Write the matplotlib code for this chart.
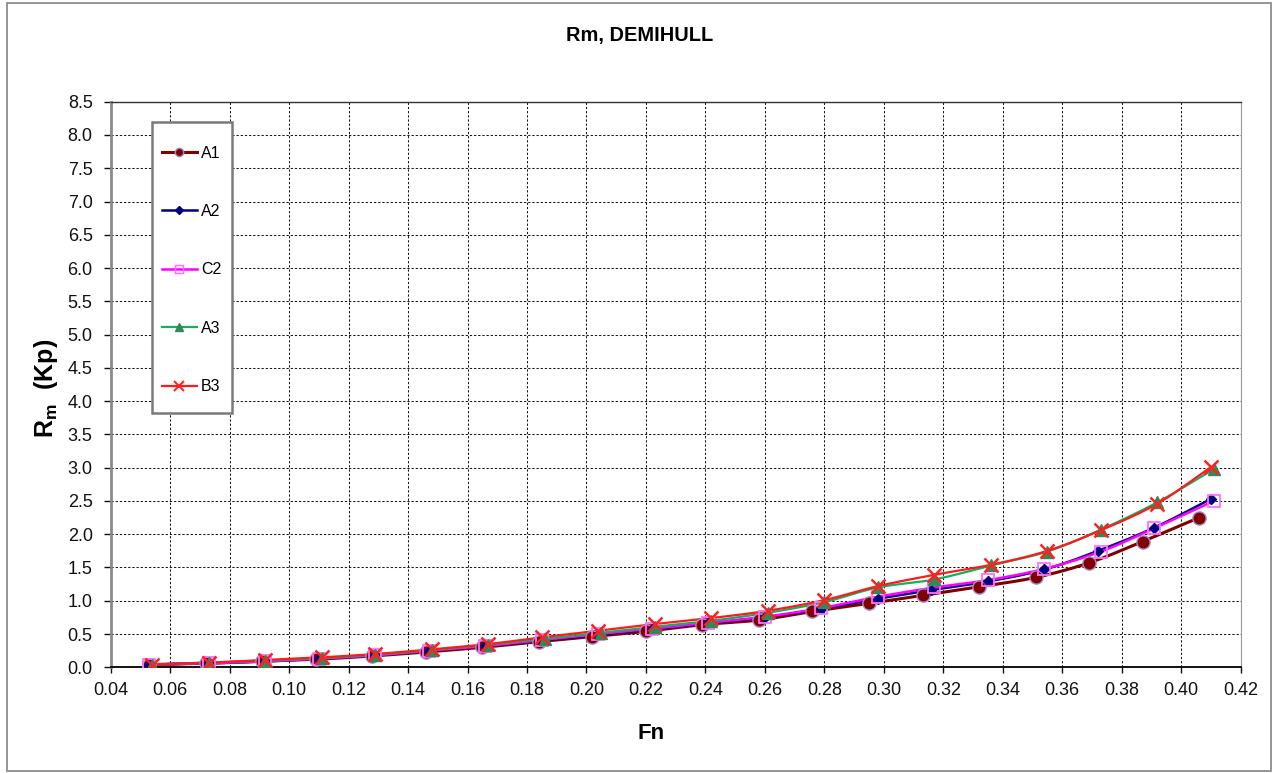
import numpy as np
import matplotlib
matplotlib.use("Agg")
import matplotlib.pyplot as plt
from matplotlib.lines import Line2D
from matplotlib.patches import Rectangle
from matplotlib.ticker import MultipleLocator, FormatStrFormatter

plt.rcParams["font.family"] = ["Liberation Sans", "DejaVu Sans"]
plt.rcParams["mathtext.fontset"] = "custom"
plt.rcParams["mathtext.rm"] = "Liberation Sans"
plt.rcParams["mathtext.bf"] = "Liberation Sans:bold"

# Froude number / model resistance (Kp) for each hull configuration
fn_a1 = [0.053, 0.072, 0.091, 0.109, 0.128, 0.146, 0.165, 0.184, 0.202, 0.220,
         0.239, 0.258, 0.276, 0.295, 0.313, 0.332, 0.351, 0.369, 0.387, 0.406]
rm_a1 = [0.04, 0.06, 0.09, 0.12, 0.17, 0.23, 0.30, 0.385, 0.46, 0.54,
         0.64, 0.71, 0.84, 0.96, 1.08, 1.21, 1.35, 1.57, 1.89, 2.25]

fn_a2 = [0.053, 0.073, 0.092, 0.110, 0.129, 0.147, 0.166, 0.185, 0.204, 0.222,
         0.241, 0.260, 0.279, 0.298, 0.316, 0.335, 0.354, 0.372, 0.391, 0.410]
rm_a2 = [0.04, 0.06, 0.09, 0.13, 0.18, 0.25, 0.32, 0.40, 0.49, 0.57,
         0.66, 0.75, 0.88, 1.03, 1.16, 1.29, 1.47, 1.75, 2.10, 2.53]

fn_c2 = [0.053, 0.073, 0.092, 0.110, 0.129, 0.147, 0.166, 0.185, 0.204, 0.222,
         0.241, 0.260, 0.279, 0.298, 0.317, 0.335, 0.354, 0.373, 0.391, 0.411]
rm_c2 = [0.04, 0.06, 0.09, 0.13, 0.18, 0.25, 0.32, 0.41, 0.50, 0.58,
         0.67, 0.76, 0.89, 1.06, 1.20, 1.31, 1.48, 1.74, 2.09, 2.50]

fn_a3 = [0.054, 0.073, 0.092, 0.111, 0.129, 0.148, 0.167, 0.186, 0.205, 0.223,
         0.242, 0.261, 0.280, 0.298, 0.317, 0.336, 0.355, 0.373, 0.392, 0.411]
rm_a3 = [0.04, 0.07, 0.10, 0.14, 0.19, 0.26, 0.34, 0.43, 0.52, 0.61,
         0.70, 0.82, 0.98, 1.20, 1.32, 1.53, 1.74, 2.07, 2.48, 2.98]

fn_b3 = [0.054, 0.073, 0.092, 0.111, 0.129, 0.148, 0.167, 0.185, 0.204, 0.223,
         0.242, 0.261, 0.280, 0.298, 0.317, 0.336, 0.355, 0.373, 0.392, 0.410]
rm_b3 = [0.04, 0.07, 0.11, 0.15, 0.20, 0.27, 0.35, 0.45, 0.55, 0.65,
         0.74, 0.85, 1.01, 1.22, 1.39, 1.54, 1.75, 2.06, 2.46, 3.01]

series_names = ["A1", "A2", "C2", "A3", "B3"]
x_ticks_step = 0.02
y_ticks_step = 0.5


def catmull_rom(x, y, n=16):
    """Smooth curve through the points (Catmull-Rom spline)."""
    p = np.column_stack([x, y]).astype(float)
    p = np.vstack([2 * p[0] - p[1], p, 2 * p[-1] - p[-2]])
    out = []
    t = np.linspace(0, 1, n, endpoint=False)[:, None]
    for i in range(1, len(p) - 2):
        p0, p1, p2, p3 = p[i - 1], p[i], p[i + 1], p[i + 2]
        seg = 0.5 * ((2 * p1) + (-p0 + p2) * t + (2 * p0 - 5 * p1 + 4 * p2 - p3) * t ** 2
                     + (-p0 + 3 * p1 - 3 * p2 + p3) * t ** 3)
        out.append(seg)
    out.append(p[-2][None, :])
    s = np.vstack(out)
    return s[:, 0], s[:, 1]


W, H = 1280, 773
fig = plt.figure(figsize=(W / 100, H / 100), dpi=100)
fig.patch.set_facecolor("white")

# chart border
fig.patches.append(Rectangle((7 / W, 2 / H), (1271 - 7) / W, (770 - 2) / H,
                             transform=fig.transFigure, fill=False,
                             edgecolor="#8c8c8c", linewidth=1.3))

left, right, top, bottom = 110.7, 1240.7, 101.7, 667.3
ax = fig.add_axes([left / W, 1 - bottom / H, (right - left) / W, (bottom - top) / H])

styles = [
    dict(x=fn_a1, y=rm_a1, line="#800000", lw=2.2, marker="o", ms=9.5, mfc="#800000",
         mec="#a58ac8", mew=1.0, lms=6),
    dict(x=fn_a2, y=rm_a2, line="#000080", lw=1.8, marker="D", ms=5.5, mfc="#000080",
         mec="#000080", mew=1.0, lms=4),
    dict(x=fn_c2, y=rm_c2, line="#ff00ff", lw=1.8, marker="s", ms=9, mfc="none",
         mec="#ff70ff", mew=1.3, lms=6),
    dict(x=fn_a3, y=rm_a3, line="#12b060", lw=1.6, marker="^", ms=8.5, mfc="#2e8b57",
         mec="#2e8b57", mew=1.0, lms=6),
    dict(x=fn_b3, y=rm_b3, line="#ff1a1a", lw=1.6, marker="x", ms=10, mfc="#ff2020",
         mec="#ff2020", mew=1.8, lms=7),
]

handles = []
for name, st in zip(series_names, styles):
    sx, sy = catmull_rom(st["x"], st["y"])
    ax.plot(sx, sy, color=st["line"], lw=st["lw"], solid_capstyle="round", zorder=3)
    ax.plot(st["x"], st["y"], linestyle="none", marker=st["marker"], ms=st["ms"],
            mfc=st["mfc"], mec=st["mec"], mew=st["mew"], zorder=4)
    handles.append(Line2D([], [], color=st["line"], lw=st["lw"], marker=st["marker"],
                          ms=st["lms"], mfc=st["mfc"], mec=st["mec"],
                          mew=max(1.0, st["mew"] * 0.8), label=name))

ax.set_xlim(0.04, 0.42)
ax.set_ylim(0.0, 8.5)
ax.xaxis.set_major_locator(MultipleLocator(x_ticks_step))
ax.yaxis.set_major_locator(MultipleLocator(y_ticks_step))
ax.xaxis.set_major_formatter(FormatStrFormatter("%.2f"))
ax.yaxis.set_major_formatter(FormatStrFormatter("%.1f"))
ax.grid(True, color="#1a1a1a", linestyle=(0, (2.2, 1.8)), linewidth=0.75, zorder=1)
ax.set_axisbelow(True)

ax.tick_params(axis="x", direction="out", length=4.5, width=1.0, pad=6,
               labelsize=13, colors="#111111")
ax.tick_params(axis="y", direction="out", length=5, width=1.0, pad=8,
               labelsize=13, colors="#111111")

ax.spines["left"].set_color("#8a8a8a")
ax.spines["left"].set_linewidth(2.0)
ax.spines["bottom"].set_color("#111111")
ax.spines["bottom"].set_linewidth(1.4)
ax.spines["top"].set_color("#333333")
ax.spines["top"].set_linewidth(1.0)
ax.spines["right"].set_color("#999999")
ax.spines["right"].set_linewidth(0.8)

# titles
fig.text(639.5 / W, 1 - 41 / H, "Rm, DEMIHULL", ha="center", va="baseline",
         fontsize=14.4, fontweight="bold")
fig.text(651 / W, 1 - 739.3 / H, "Fn", ha="center", va="baseline",
         fontsize=16, fontweight="bold")
fig.text(46 / W, 1 - 388 / H, r"$\mathbf{R}_\mathbf{m}$  (Kp)", ha="center", va="center",
         rotation=90, fontsize=18, fontweight="bold")

# legend box
ax.add_patch(Rectangle((152.3 / W, 1 - 412.7 / H), (231.7 - 152.3) / W, (412.7 - 122.3) / H,
                       transform=fig.transFigure, facecolor="white",
                       edgecolor="#7a7a7a", linewidth=1.8, zorder=5))
leg = fig.legend(handles=handles, loc="upper left",
                 bbox_to_anchor=(161.7 / W, 1 - 145.5 / H),
                 frameon=False, fontsize=11.5, handlelength=2.2, handletextpad=0.25,
                 labelspacing=2.72, borderpad=0, borderaxespad=0)
leg.set_zorder(6)

fig.savefig("out.png", dpi=100, facecolor="white")
